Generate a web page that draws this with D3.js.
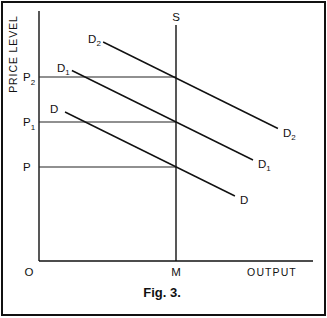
<!DOCTYPE html>
<html><head><meta charset="utf-8">
<script src="https://cdn.jsdelivr.net/npm/d3@7"></script>
<style>body{margin:0;background:#fff}text{font-family:"Liberation Sans",Arial,sans-serif;fill:#111}</style>
</head><body>
<svg id="c" width="327" height="318"></svg>
<script>
// Data (output units on x, price level on y)
const priceLevels = [
  {name:"P", sub:"", y:37.6},
  {name:"P", sub:"1", y:55.6},
  {name:"P", sub:"2", y:73.6}
];
const supplyX = 50, supplyTop = 94.4;
const demandNames = ["D","D1","D2"];
const demandStart = [[9.5,59.6],[12.0,76.2],[23.4,87.6]];
const demandEnd = [[71.5,26.0],[78.1,40.4],[87.2,53.0]];
const demandSub = ["","1","2"];

const svg = d3.select("#c");
const x = d3.scaleLinear().domain([0,100]).range([39,313]);
const y = d3.scaleLinear().domain([0,100]).range([261,11]);

// frame
svg.append("rect").attr("x",2).attr("y",2).attr("width",323).attr("height",313)
  .attr("fill","none").attr("stroke","#111").attr("stroke-width",2);

// axes (no ticks)
svg.append("line").attr("x1",x(0)).attr("x2",x(0)).attr("y1",y(0)).attr("y2",y(100))
  .attr("stroke","#111").attr("stroke-width",1.4);
svg.append("line").attr("x1",x(0)).attr("x2",x(100)).attr("y1",y(0)).attr("y2",y(0))
  .attr("stroke","#111").attr("stroke-width",1.4);

// price level guides
priceLevels.forEach(p=>{
  svg.append("line").attr("x1",x(0)).attr("x2",x(supplyX)).attr("y1",y(p.y)).attr("y2",y(p.y))
    .attr("stroke","#222").attr("stroke-width",1.1);
  const t = svg.append("text").attr("x",x(0)-16).attr("y",y(p.y)+4).attr("font-size",11.5).attr("text-anchor","start");
  t.append("tspan").text(p.name);
  if(p.sub) t.append("tspan").attr("dy",4).attr("font-size",8).text(p.sub);
});

// supply line
svg.append("line").attr("x1",x(supplyX)).attr("x2",x(supplyX)).attr("y1",y(0)).attr("y2",y(supplyTop))
  .attr("stroke","#111").attr("stroke-width",1.4);
svg.append("text").attr("x",x(supplyX)).attr("y",y(supplyTop)-4).attr("text-anchor","middle").attr("font-size",11.5).text("S");

// demand lines
const line = d3.line().x(d=>x(d[0])).y(d=>y(d[1]));
demandNames.forEach((n,i)=>{
  svg.append("path").attr("d",line([demandStart[i],demandEnd[i]]))
    .attr("stroke","#111").attr("stroke-width",1.4).attr("fill","none");
  const s = svg.append("text").attr("x",x(demandStart[i][0])-15).attr("y",y(demandStart[i][1])+1).attr("font-size",11.5);
  s.append("tspan").text("D");
  if(demandSub[i]) s.append("tspan").attr("dy",3).attr("font-size",8).text(demandSub[i]);
  const e = svg.append("text").attr("x",x(demandEnd[i][0])+5).attr("y",y(demandEnd[i][1])+8).attr("font-size",11.5);
  e.append("tspan").text("D");
  if(demandSub[i]) e.append("tspan").attr("dy",3).attr("font-size",8).text(demandSub[i]);
});

// axis labels
svg.append("text").attr("x",x(0)-10).attr("y",y(0)+15).attr("text-anchor","middle").attr("font-size",11.5).text("O");
svg.append("text").attr("x",x(supplyX)).attr("y",y(0)+15).attr("text-anchor","middle").attr("font-size",11.5).text("M");
svg.append("text").attr("x",272).attr("y",y(0)+15).attr("text-anchor","middle").attr("font-size",10.5).attr("letter-spacing",1.1).text("OUTPUT");
svg.append("text").attr("transform","translate(17,54) rotate(-90)").attr("text-anchor","middle")
  .attr("font-size",10.5).attr("letter-spacing",0.9).text("PRICE LEVEL");
svg.append("text").attr("x",162).attr("y",297).attr("text-anchor","middle").attr("font-size",13).attr("font-weight","bold").text("Fig. 3.");
</script>
</body></html>
